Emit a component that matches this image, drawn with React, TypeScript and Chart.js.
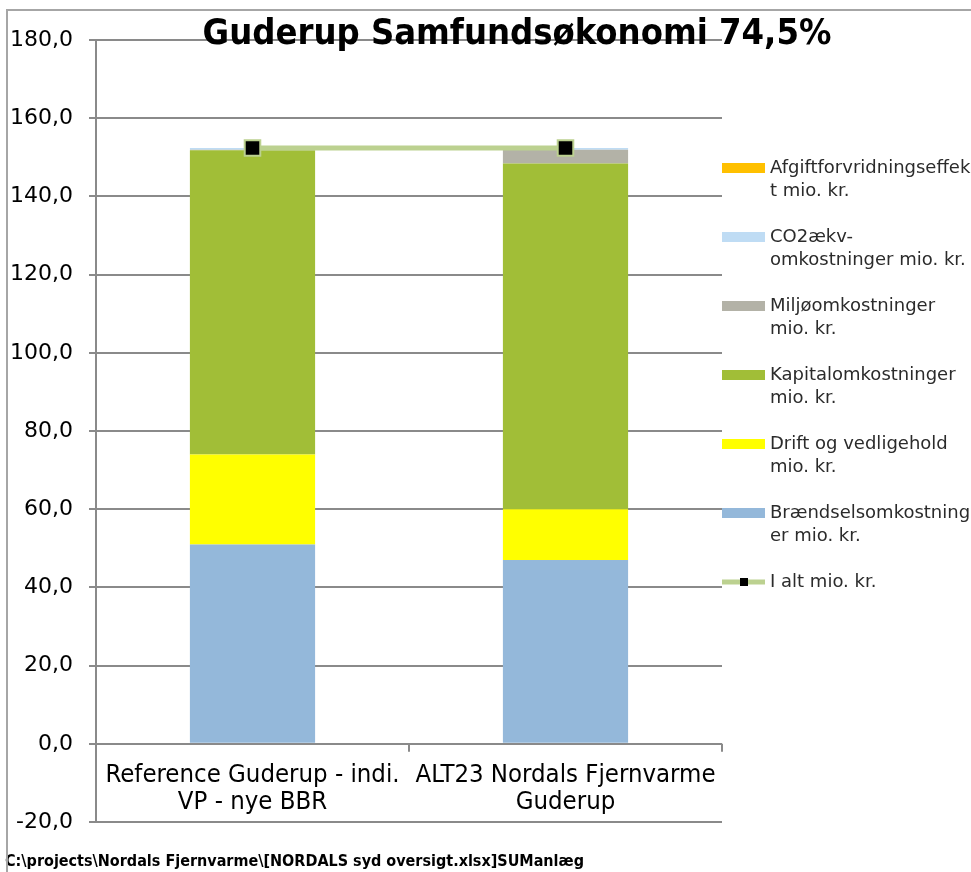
import React, { useEffect, useRef } from "react";
import { Chart, registerables } from "chart.js";

Chart.register(...registerables);

// ---- Data ----
const categories: string[][] = [
  ["Reference Guderup - indi.", "VP - nye BBR"],
  ["ALT23 Nordals Fjernvarme", "Guderup"],
];
const braendsel = [51.0, 47.0];
const drift = [23.0, 13.0];
const kapital = [77.8, 88.4];
const miljoe = [0.1, 3.5];
const co2 = [0.5, 0.5];
const afgift = [0.0, 0.0];
const iAlt = [152.4, 152.4];

const yMin = -20;
const yMax = 180;
const yStep = 20;

const titleText = "Guderup Samfundsøkonomi 74,5%";
const footerText = "C:\\projects\\Nordals Fjernvarme\\[NORDALS syd oversigt.xlsx]SUManlæg";

const barSeries = [
  { name: ["Brændselsomkostning", "er mio. kr."], values: braendsel, color: "#94B8DA" },
  { name: ["Drift og vedligehold", "mio. kr."], values: drift, color: "#FFFF00" },
  { name: ["Kapitalomkostninger", "mio. kr."], values: kapital, color: "#A1BE37" },
  { name: ["Miljøomkostninger", "mio. kr."], values: miljoe, color: "#B3B2A7" },
  { name: ["CO2ækv-", "omkostninger mio. kr."], values: co2, color: "#BFDCF4" },
  { name: ["Afgiftforvridningseffek", "t mio. kr."], values: afgift, color: "#FFC000" },
];
const totalName = ["I alt mio. kr."];
const lineColor = "#BCD190";
const gridColor = "#8A8A8A";

const fmt = (v: number) => v.toFixed(1).replace(".", ",");

const decorPlugin = {
  id: "decor",
  afterDraw(chart: any) {
    const ctx = chart.ctx as CanvasRenderingContext2D;
    const xs = chart.scales.x;
    const ys = chart.scales.y;
    const area = chart.chartArea;
    ctx.save();

    // x-axis tick marks at category boundaries
    const zeroY = ys.getPixelForValue(0);
    const n = categories.length;
    const catW = (area.right - area.left) / n;
    ctx.strokeStyle = gridColor;
    ctx.lineWidth = 2;
    for (let i = 1; i <= n; i++) {
      const bx = area.left + catW * i;
      ctx.beginPath();
      ctx.moveTo(bx, zeroY);
      ctx.lineTo(bx, zeroY + 8);
      ctx.stroke();
    }

    // category labels
    ctx.fillStyle = "#000";
    ctx.font = '25.5px "DejaVu Sans Condensed", "DejaVu Sans"';
    ctx.textAlign = "center";
    ctx.textBaseline = "middle";
    categories.forEach((lines, i) => {
      const cx = xs.getPixelForValue(i);
      lines.forEach((ln, j) => ctx.fillText(ln, cx, zeroY + 32 + j * 27));
    });

    // title
    ctx.font = 'bold 36px "DejaVu Sans Condensed", "DejaVu Sans"';
    ctx.fillText(titleText, 517, 35);

    // legend
    const lx = area.right;
    const ds = chart.data.datasets;
    const order: number[] = [];
    for (let i = barSeries.length - 1; i >= 0; i--) order.push(i);
    order.push(barSeries.length);
    ctx.font = '18px "DejaVu Sans", sans-serif';
    ctx.textAlign = "left";
    order.forEach((di, k) => {
      const d = ds[di];
      const y0 = 168 + k * 69;
      if (d.type === "line") {
        ctx.strokeStyle = d.borderColor;
        ctx.lineWidth = 5;
        ctx.beginPath();
        ctx.moveTo(lx, y0);
        ctx.lineTo(lx + 43, y0);
        ctx.stroke();
        ctx.fillStyle = "#000";
        ctx.fillRect(lx + 18, y0 - 4, 8, 8);
      } else {
        ctx.fillStyle = d.backgroundColor;
        ctx.fillRect(lx, y0 - 5, 43, 10);
      }
      ctx.fillStyle = "#2b2b2b";
      (d.legendLines as string[]).forEach((ln: string, j: number) =>
        ctx.fillText(ln, lx + 48, y0 + j * 23)
      );
    });

    // footer
    ctx.fillStyle = "#000";
    ctx.font = 'bold 16px "DejaVu Sans Condensed", "DejaVu Sans"';
    ctx.fillText(footerText, 5, 862);

    // frame
    ctx.strokeStyle = "#A6A6A6";
    ctx.lineWidth = 2;
    ctx.beginPath();
    ctx.moveTo(7, 872);
    ctx.lineTo(7, 10);
    ctx.lineTo(971, 10);
    ctx.stroke();

    ctx.restore();
  },
  beforeDraw(chart: any) {
    const ctx = chart.ctx as CanvasRenderingContext2D;
    ctx.save();
    ctx.fillStyle = "#fff";
    ctx.fillRect(0, 0, chart.width, chart.height);
    ctx.restore();
  },
};

export default function App() {
  const ref = useRef<HTMLCanvasElement | null>(null);
  useEffect(() => {
    if (!ref.current) return;
    const datasets: any[] = barSeries.map((s) => ({
      type: "bar",
      label: s.name.join(" "),
      legendLines: s.name,
      data: s.values,
      backgroundColor: s.color,
      borderWidth: 0,
      barPercentage: 0.4,
      categoryPercentage: 1.0,
      order: 1,
    }));
    datasets.push({
      type: "line",
      label: totalName.join(" "),
      legendLines: totalName,
      data: iAlt,
      borderColor: lineColor,
      borderWidth: 5,
      pointStyle: "rect",
      pointRadius: 11,
      pointBackgroundColor: "#000",
      pointBorderColor: lineColor,
      pointBorderWidth: 2,
      tension: 0,
      order: 0,
    });
    const chart = new Chart(ref.current, {
      type: "bar",
      data: { labels: categories.map((c) => c.join(" ")), datasets },
      options: {
        responsive: false,
        animation: false,
        events: [],
        layout: { padding: { left: 0, top: 40, right: 249, bottom: 50 } },
        plugins: { legend: { display: false }, tooltip: { enabled: false }, title: { display: false } },
        scales: {
          x: { display: false, stacked: true },
          y: {
            stacked: true,
            min: yMin,
            max: yMax,
            afterFit: (s: any) => {
              s.width = 96;
            },
            ticks: {
              stepSize: yStep,
              color: "#000",
              padding: 16,
              font: { family: "DejaVu Sans", size: 22 },
              callback: (v: any) => fmt(Number(v)),
            },
            grid: { color: gridColor, lineWidth: 2, tickLength: 7, drawTicks: true },
            border: { color: gridColor, width: 2 },
          },
        },
      },
      plugins: [decorPlugin],
    } as any);
    return () => chart.destroy();
  }, []);
  return (
    <div style={{ position: "fixed", left: 0, top: 0, width: 971, height: 872, background: "#fff" }}>
      <canvas ref={ref} width={971} height={872} style={{ width: 971, height: 872, display: "block" }} />
    </div>
  );
}
